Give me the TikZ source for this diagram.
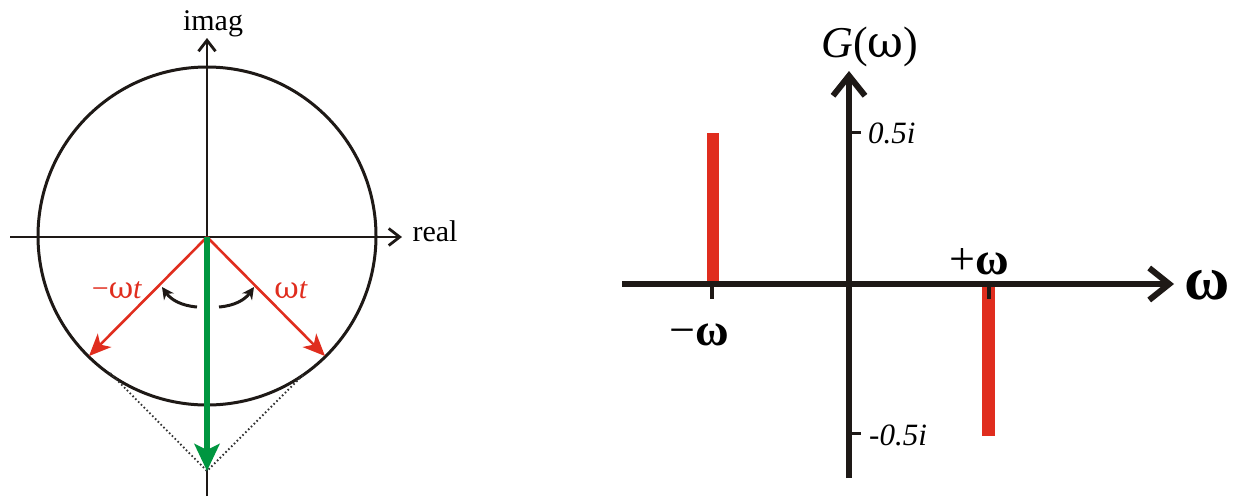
\documentclass[tikz,border=0pt]{standalone}
\usepackage{fontspec}
\setmainfont{Liberation Serif}
\newfontfamily\gr{DejaVu Serif}
\newcommand{\om}{{\gr ω}}
\newcommand{\omb}{{\bfseries ω}}
\usetikzlibrary{arrows.meta}
\definecolor{sred}{RGB}{224,45,30}
\definecolor{sgreen}{RGB}{0,150,64}
\definecolor{sblack}{RGB}{30,25,22}
\begin{document}
\begin{tikzpicture}[x=1pt,y=-1pt,
  lbl/.style={inner sep=0pt,text=black},
  thinaxis/.style={draw=sblack,line width=2.8pt,-{Straight Barb[length=11pt,width=17pt]}},
  bigaxis/.style={draw=sblack,line width=6pt,-{Straight Barb[length=20pt,width=32pt]}},
  redarrow/.style={draw=sred,line width=2.6pt,-{Stealth[length=22pt,width=19pt,inset=6pt]}},
  greenarrow/.style={draw=sgreen,line width=5.5pt,-{Stealth[length=27pt,width=25pt,inset=6pt]}},
  turn/.style={draw=sblack,line width=3pt,-{Stealth[length=12pt,width=12pt]}},
  guide/.style={draw=black!80,line width=1.8pt,dash pattern=on 1.6pt off 2.4pt},
  tick/.style={draw=sblack,line width=3pt},
  bar/.style={fill=sred,draw=none},
  f30/.style={font=\fontsize{30}{34}\selectfont},
  f44/.style={font=\fontsize{46}{52}\selectfont},
]
\useasboundingbox (0,0) rectangle (1236,496);

% ---------- left: unit circle ----------
\coordinate (O) at (207,237);
\coordinate (Rl) at (10,237);
\coordinate (Rr) at (402,237);
\coordinate (Ib) at (207,496);
\coordinate (It) at (207,38);
\node[draw=sblack,line width=3pt,circle,minimum size=338pt,inner sep=0pt] (circ) at (207,236) {};
\draw[thinaxis] (Rl) -- (Rr);
\draw[thinaxis] (Ib) -- (It);
\node[lbl,f30] (imag) at (213,24) {imag};
\node[lbl,f30] (real) at (435,231) {real};

\coordinate (Pl) at (89,356);
\coordinate (Pr) at (325,356);
\coordinate (Pd) at (207,471);
\coordinate (Tl) at (110,373);
\coordinate (Tr) at (303,375);
\draw[guide] (Tl) -- (Pd);
\draw[guide] (Tr) -- (Pd);
\draw[redarrow] (O) -- (Pl);
\draw[redarrow] (O) -- (Pr);
\draw[greenarrow] (O) -- (Pd);

\coordinate (al1) at (197,307);
\coordinate (al2) at (162,287);
\coordinate (ar1) at (219,307);
\coordinate (ar2) at (254,287);
\draw[turn] (al1) to[bend left=25] (al2);
\draw[turn] (ar1) to[bend right=25] (ar2);
\node[lbl,f30,text=sred] (mwt) at (117,290) {−\om\textit{t}};
\node[lbl,f30,text=sred] (wt) at (291,290) {\om\textit{t}};

% ---------- right: spectrum ----------
\coordinate (Hl) at (622,284);
\coordinate (Hr) at (1174,284);
\coordinate (Vb) at (849,478);
\coordinate (Vt) at (849,71);
\fill[bar] (707,133) rectangle (719,284);
\fill[bar] (982,284) rectangle (995,436);
\draw[bigaxis] (Hl) -- (Hr);
\draw[bigaxis] (Vb) -- (Vt);
\draw[tick] (849,132) -- (861,132);
\draw[tick] (849,433) -- (861,433);
\draw[tick,line width=3.5pt] (712,284) -- (712,299);
\draw[tick,line width=3.5pt] (989,284) -- (989,299);
\node[lbl,font=\fontsize{31}{36}\selectfont,anchor=west] (p5) at (868,133) {\textit{0.5i}};
\node[lbl,font=\fontsize{31}{36}\selectfont,anchor=west] (m5) at (869,435) {\textit{-0.5i}};
\node[lbl,font=\fontsize{44}{50}\selectfont] (G) at (870,47) {\textit{G}(\om)};
\node[lbl,f44] (mw) at (699,335) {−\omb};
\node[lbl,f44] (pw) at (979,262) {+\omb};
\node[lbl,font=\fontsize{62}{68}\selectfont] (w) at (1207,285) {\omb};
\end{tikzpicture}
\end{document}
